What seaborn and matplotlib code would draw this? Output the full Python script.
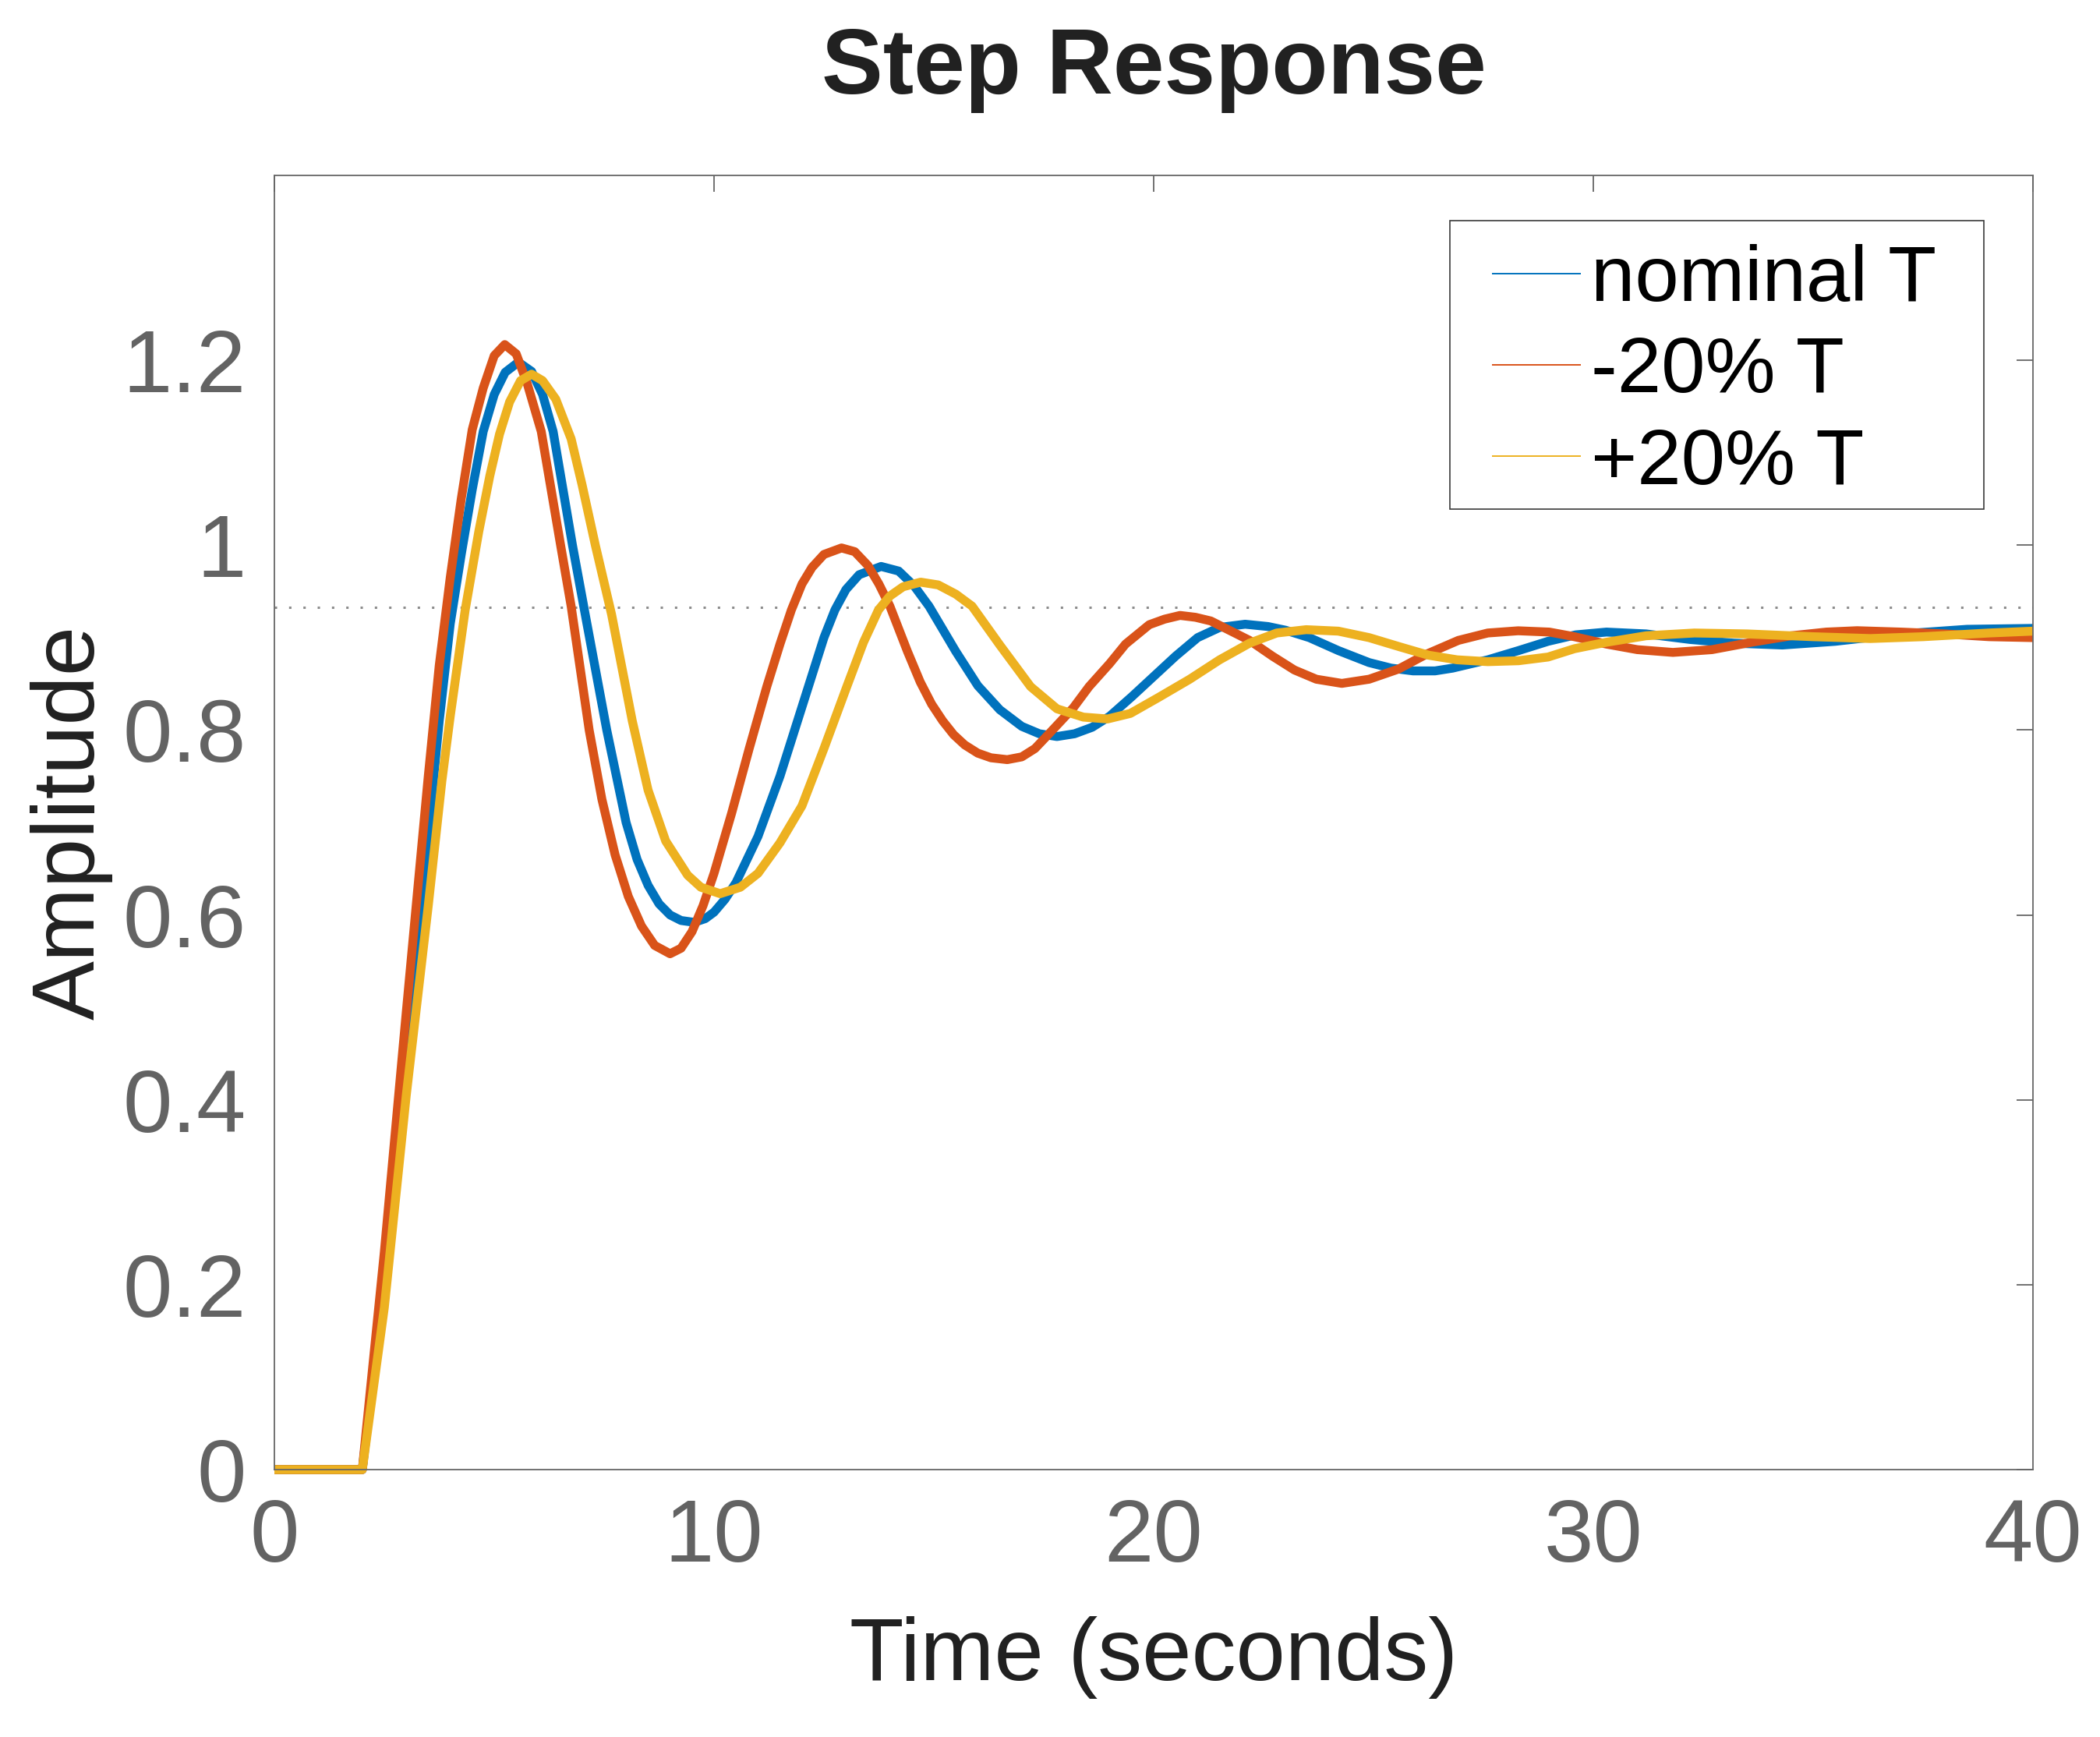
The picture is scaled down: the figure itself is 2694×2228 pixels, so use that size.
import matplotlib
matplotlib.use('Agg')
import matplotlib.pyplot as plt
import seaborn as sns
import pandas as pd
from matplotlib.patches import Rectangle

# Step response samples (time in s, amplitude)
t_nominal = [0, 2.0, 2.5, 3.0, 3.5, 3.75, 4.0, 4.25, 4.5, 4.75, 5.0, 5.25, 5.55, 5.85, 6.1,
             6.34, 6.78, 7.09, 7.56, 8.0, 8.25, 8.5, 8.75, 9.0, 9.25, 9.55, 9.8, 10.0, 10.25,
             10.5, 11.0, 11.5, 12.0, 12.5, 12.75, 13.0, 13.3, 13.8, 14.2, 14.55, 14.89, 15.5,
             16.0, 16.5, 17.0, 17.4, 17.8, 18.2, 18.6, 19.0, 19.5, 20.0, 20.5, 21.0, 21.5,
             22.08, 22.6, 23.0, 23.54, 24.2, 24.9, 25.4, 25.9, 26.4, 26.8, 27.6, 28.3, 28.97,
             29.6, 30.3, 31.2, 32.2, 33.2, 34.3, 35.5, 37.0, 38.5, 40.0]
y_nominal = [0, 0, 0.20, 0.45, 0.69, 0.81, 0.915, 0.99, 1.06, 1.123, 1.163, 1.187, 1.198,
             1.188, 1.163, 1.123, 1.0, 0.92, 0.80, 0.70, 0.66, 0.632, 0.612, 0.60, 0.594,
             0.592, 0.596, 0.603, 0.617, 0.635, 0.685, 0.75, 0.825, 0.90, 0.93, 0.952, 0.968,
             0.977, 0.972, 0.956, 0.934, 0.885, 0.848, 0.822, 0.804, 0.796, 0.793, 0.796,
             0.803, 0.815, 0.836, 0.858, 0.88, 0.90, 0.911, 0.9145, 0.912, 0.908, 0.90, 0.886,
             0.873, 0.867, 0.864, 0.864, 0.867, 0.876, 0.886, 0.896, 0.903, 0.906, 0.904,
             0.898, 0.894, 0.892, 0.896, 0.904, 0.909, 0.910]

t_minus20 = [0, 2.0, 2.5, 3.0, 3.5, 3.75, 4.0, 4.25, 4.5, 4.75, 5.0, 5.24, 5.5, 5.75, 6.07,
             6.51, 6.75, 7.16, 7.45, 7.75, 8.05, 8.35, 8.65, 9.0, 9.25, 9.5, 9.75, 10.0,
             10.4, 10.8, 11.2, 11.5, 11.76, 12.0, 12.23, 12.5, 12.9, 13.2, 13.5, 13.75, 14.0,
             14.4, 14.69, 14.95, 15.2, 15.45, 15.7, 16.0, 16.3, 16.67, 17.0, 17.3, 17.6,
             18.17, 18.53, 19.0, 19.36, 19.9, 20.25, 20.6, 20.95, 21.3, 22.18, 22.7, 23.2,
             23.7, 24.28, 24.9, 25.57, 26.2, 26.93, 27.6, 28.29, 29.0, 29.57, 30.3, 31.0,
             31.81, 32.7, 33.6, 34.5, 35.3, 36.0, 37.0, 38.0, 39.0, 40.0]
y_minus20 = [0, 0, 0.235, 0.495, 0.75, 0.87, 0.965, 1.05, 1.125, 1.17, 1.205, 1.217, 1.207,
             1.175, 1.123, 1.0, 0.934, 0.80, 0.725, 0.665, 0.62, 0.588, 0.567, 0.558, 0.564,
             0.582, 0.61, 0.645, 0.71, 0.78, 0.847, 0.893, 0.93, 0.958, 0.976, 0.99, 0.997,
             0.993, 0.978, 0.958, 0.934, 0.885, 0.852, 0.828, 0.81, 0.795, 0.784, 0.775,
             0.770, 0.768, 0.771, 0.780, 0.795, 0.824, 0.847, 0.872, 0.893, 0.914, 0.920,
             0.924, 0.922, 0.918, 0.897, 0.880, 0.865, 0.855, 0.8505, 0.855, 0.866, 0.882,
             0.897, 0.905, 0.9074, 0.906, 0.901, 0.893, 0.887, 0.884, 0.887, 0.895, 0.902,
             0.906, 0.9075, 0.906, 0.904, 0.901, 0.900]

t_plus20 = [0, 2.0, 2.5, 3.0, 3.5, 3.81, 4.0, 4.34, 4.65, 4.9, 5.12, 5.35, 5.6, 5.85, 6.1,
            6.4, 6.75, 7.0, 7.3, 7.67, 8.14, 8.5, 8.9, 9.4, 9.7, 10.14, 10.6, 11.0, 11.5,
            12.0, 12.5, 13.02, 13.4, 13.74, 14.0, 14.3, 14.7, 15.1, 15.5, 15.87, 16.5, 17.2,
            17.8, 18.4, 18.95, 19.47, 20.1, 20.82, 21.5, 22.18, 22.8, 23.47, 24.2, 24.9,
            25.6, 26.25, 26.9, 27.6, 28.3, 28.97, 29.57, 30.3, 31.2, 32.3, 33.5, 35.0, 36.3,
            37.5, 39.0, 40.0]
y_plus20 = [0, 0, 0.175, 0.405, 0.61, 0.745, 0.815, 0.93, 1.015, 1.075, 1.12, 1.155, 1.178,
            1.185, 1.178, 1.158, 1.115, 1.065, 1.0, 0.925, 0.81, 0.735, 0.68, 0.643, 0.63,
            0.623, 0.630, 0.645, 0.678, 0.718, 0.78, 0.847, 0.895, 0.93, 0.945, 0.955, 0.96,
            0.957, 0.947, 0.934, 0.892, 0.847, 0.823, 0.814, 0.812, 0.818, 0.835, 0.855,
            0.876, 0.894, 0.905, 0.9086, 0.907, 0.90, 0.89, 0.881, 0.876, 0.874, 0.875,
            0.879, 0.888, 0.895, 0.902, 0.905, 0.904, 0.901, 0.899, 0.901, 0.905, 0.907]

series_names = ['nominal T', '-20% T', '+20% T']
series_colors = ['#0072BD', '#D95319', '#EDB120']
steady_state = 0.933

x_ticks = [0, 10, 20, 30, 40]
y_ticks = [0, 0.2, 0.4, 0.6, 0.8, 1.0, 1.2]
y_tick_labels = ['0', '0.2', '0.4', '0.6', '0.8', '1', '1.2']

# long-form table for seaborn
frames = []
for name, t, y in zip(series_names, [t_nominal, t_minus20, t_plus20],
                      [y_nominal, y_minus20, y_plus20]):
    frames.append(pd.DataFrame({'Time': t, 'Amplitude': y, 'series': name}))
df = pd.concat(frames, ignore_index=True)

sns.set_style('white')
plt.rcParams['font.family'] = ['Liberation Sans', 'DejaVu Sans']

W, H = 2694, 2228
fig = plt.figure(figsize=(W / 100, H / 100), dpi=100)
ax = fig.add_axes([352 / W, 1 - 1885 / H, 2256 / W, 1660 / H])

# steady-state dotted line
ax.axhline(steady_state, color='#8c8c8c', lw=2.2, linestyle=(0, (1, 5)), zorder=1)

sns.lineplot(data=df, x='Time', y='Amplitude', hue='series', hue_order=series_names,
             palette=dict(zip(series_names, series_colors)), estimator=None, sort=False,
             linewidth=8.2, ax=ax)
for line in ax.get_lines()[1:]:
    line.set_clip_on(False)
    line.set_solid_capstyle('butt')
    line.set_solid_joinstyle('round')

ax.set_xlim(0, 40)
ax.set_ylim(0, 1.4)
ax.set_xticks(x_ticks)
ax.set_xticklabels([str(v) for v in x_ticks])
ax.set_yticks(y_ticks)
ax.set_yticklabels(y_tick_labels)
ax.tick_params(direction='in', length=15, width=1.3, color='#666666', labelcolor='#636363',
               labelsize=82, pad=26, top=True, right=True)
for s in ax.spines.values():
    s.set_visible(True)
    s.set_color('#666666')
    s.set_linewidth(1.3)

ax.set_xlabel('Time (seconds)', fontsize=82, color='#212121')
ax.xaxis.set_label_coords(0.5, -0.1133)
ax.set_ylabel('Amplitude', fontsize=82, color='#212121')
ax.yaxis.set_label_coords(-0.0918, 0.5)
ax.set_title('Step Response', fontsize=85, fontweight='bold', color='#212121', pad=75.6)

# legend with thin handles, framed like the MATLAB box
handles, labels = ax.get_legend_handles_labels()
ax.get_legend().remove()
leg = ax.legend(handles, labels, loc='upper left', bbox_to_anchor=(1914 / W, 1 - 313 / H),
                bbox_transform=fig.transFigure, frameon=False, fontsize=73,
                handlelength=1.12, handletextpad=0.13, borderpad=0, borderaxespad=0,
                labelspacing=0.23, labelcolor='black')
for h in leg.get_lines():
    h.set_linewidth(1.4)
fig.add_artist(Rectangle((1860 / W, 1 - 653 / H), 685 / W, 370 / H,
                         transform=fig.transFigure, fill=False,
                         edgecolor='#3a3a3a', lw=1.2))

fig.savefig('out.png', dpi=100, facecolor='white')
